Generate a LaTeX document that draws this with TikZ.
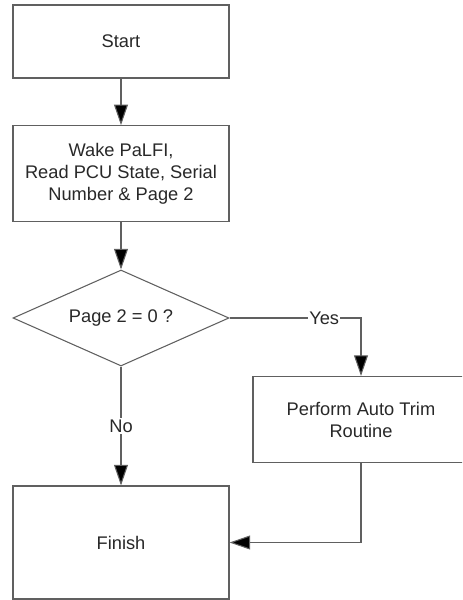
\documentclass[tikz,border=0pt]{standalone}
\usepackage{fontspec}
\setmainfont{Liberation Sans}
\usetikzlibrary{shapes.geometric,arrows.meta}
\definecolor{linegray}{RGB}{96,96,96}
\definecolor{txtgray}{RGB}{40,40,40}
\begin{document}
\begin{tikzpicture}[x=0.75pt,y=-0.75pt,
  base/.style={draw=linegray, line width=0.8pt, text=txtgray, align=center,
    font=\fontsize{13.7pt}{16.5pt}\selectfont, inner sep=0pt},
  procbox/.style={base, rectangle, minimum width=162pt},
  decbox/.style={base, diamond, minimum width=162pt, minimum height=72pt, aspect=2.25},
  conn/.style={draw=linegray, line width=0.8pt, -{Triangle[length=15.5pt,width=10.5pt,fill=black]}},
  lbl/.style={fill=white, inner sep=1pt, text=txtgray, font=\fontsize{13.7pt}{16.5pt}\selectfont}]
\useasboundingbox (0,0) rectangle (462,600);
\clip (0,0) rectangle (462,600);
\node[procbox, minimum height=54.75pt] (start) at (121,41.5) {Start};
\node[procbox, minimum height=72pt] (wake) at (121,173.7) {Wake PaLFI,\\Read PCU State, Serial\\Number \& Page 2};
\node[decbox] (dec) at (121,318) {Page 2 = 0 ?};
\node[procbox, minimum height=64.5pt] (trim) at (361,419.5) {Perform Auto Trim\\Routine};
\node[procbox, minimum height=84.75pt] (finish) at (121,542.5) {Finish};
\draw[conn] (start) -- (wake);
\draw[conn] (wake) -- (dec);
\draw[conn] (dec.east) -| node[lbl, pos=0.36] {Yes} (trim.north);
\draw[conn] (dec.south) -- node[lbl, pos=0.5] {No} (finish.north);
\draw[conn] (trim.south) |- (finish.east);
\end{tikzpicture}
\end{document}
